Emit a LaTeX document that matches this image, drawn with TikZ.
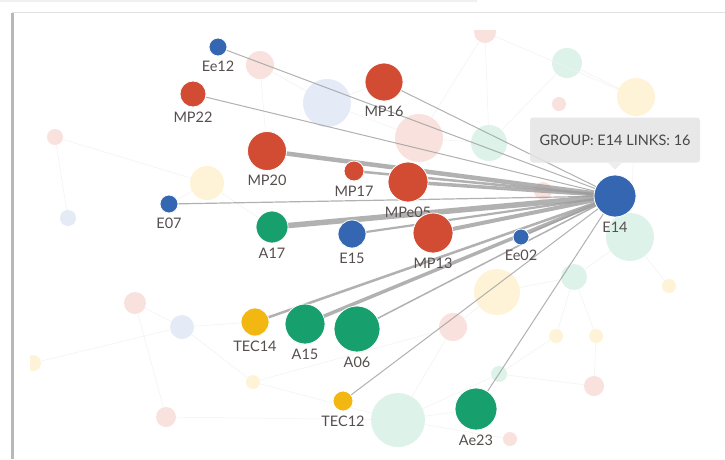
\documentclass[tikz,border=0pt]{standalone}
\usepackage{fontspec}
\setmainfont{Lato}
\usetikzlibrary{backgrounds}
\definecolor{cred}{HTML}{D24B33}
\definecolor{cblue}{HTML}{3566B2}
\definecolor{cgreen}{HTML}{17A06E}
\definecolor{cyel}{HTML}{F3B712}
\definecolor{lpink}{HTML}{F9E1DD}
\definecolor{lblue}{HTML}{E4EBF6}
\definecolor{lgreen}{HTML}{DDF3EA}
\definecolor{lyel}{HTML}{FEF3D6}
\definecolor{txt}{HTML}{574E4E}
\definecolor{edgec}{HTML}{9E9E9E}
\tikzset{
 fg/.style={circle, inner sep=0pt, draw=white, line width=0.8pt},
 lab/.style={font=\fontsize{14.5}{15}\selectfont, text=txt, inner sep=1pt},
 bgn/.style={circle, inner sep=0pt, draw=none},
 link/.style={draw=edgec, draw opacity=0.8},
 faint/.style={draw=black!5, line width=0.5pt},
 tip/.style={fill=black!10, fill opacity=0.85, text opacity=1, rounded corners=3pt,
   minimum width=170pt, minimum height=45pt, text=black!72,
   font=\fontsize{14.5}{15}\selectfont},
}
\newcommand{\fgn}[6]{\node[fg, fill=#1, minimum size=#5, label={[lab,label distance=3pt]below:#6}] (#2) at (#3,#4) {};}
\newcommand{\bgc}[5]{\node[bgn, fill=#1, minimum size=#5] (#2) at (#3,#4) {};}
\begin{document}
\begin{tikzpicture}[x=1pt,y=-1pt]
\useasboundingbox (0,0) rectangle (725,459);
% foreground nodes
\fgn{cblue}{E14}{615}{196}{42pt}{E14}
\fgn{cblue}{Ee12}{218}{47}{18pt}{Ee12}
\fgn{cred}{MP22}{193}{94}{26pt}{MP22}
\fgn{cred}{MP16}{384}{82}{38pt}{MP16}
\fgn{cred}{MP20}{267}{151}{39pt}{MP20}
\fgn{cred}{MP17}{354}{171}{20pt}{MP17}
\fgn{cred}{MPe05}{408}{182}{40pt}{MPe05}
\fgn{cblue}{E07}{169}{204}{18pt}{E07}
\fgn{cgreen}{A17}{272}{227}{32pt}{A17}
\fgn{cblue}{E15}{352}{234}{28pt}{E15}
\fgn{cred}{MP13}{433}{233}{40pt}{MP13}
\fgn{cblue}{Ee02}{521}{237}{16pt}{Ee02}
\fgn{cyel}{TEC14}{255}{322}{28pt}{TEC14}
\fgn{cgreen}{A15}{305}{324}{40pt}{A15}
\fgn{cgreen}{A06}{357}{329}{46pt}{A06}
\fgn{cyel}{TEC12}{343}{401}{20pt}{TEC12}
\fgn{cgreen}{Ae23}{476}{409}{42pt}{Ae23}
% tooltip
\node[tip] (tip) at (615,140) {GROUP: E14 LINKS: 16};
\fill[black!8, fill opacity=0.85] ([xshift=-7pt]tip.south) -- ([xshift=7pt]tip.south) -- ([yshift=-7pt]tip.south) -- cycle;
\begin{scope}[on background layer]
\fill[white] (0,0) rectangle (725,459);
\draw[black!6, line width=1.5pt] (0,1) -- (477,1);
\draw[black!12, line width=1pt] (12,459) -- (12,12) -- (725,12);
\draw[black!28, line width=2.2pt] (12.5,13) -- (12.5,459);
\begin{scope}
\clip (30,30) rectangle (725,459);
\bgc{lpink}{p1}{260}{65}{28pt}
\bgc{lblue}{bl1}{327}{103}{48pt}
\bgc{lpink}{p2}{485}{32}{22pt}
\bgc{lgreen}{g1}{567}{63}{30pt}
\bgc{lyel}{y1}{636}{97}{38pt}
\bgc{lpink}{p3}{559}{104}{14pt}
\bgc{lpink}{p4}{419}{138}{48pt}
\bgc{lgreen}{g2}{489}{143}{36pt}
\bgc{lpink}{p5}{55}{137}{16pt}
\bgc{lyel}{y2}{207}{183}{34pt}
\bgc{lblue}{bl2}{68}{218}{16pt}
\bgc{lpink}{p6}{543}{191}{18pt}
\bgc{lgreen}{g3}{630}{237}{48pt}
\bgc{lgreen}{g4}{574}{277}{26pt}
\bgc{lyel}{y3}{669}{286}{14pt}
\bgc{lyel}{y4}{497}{292}{46pt}
\bgc{lpink}{p7}{453}{327}{28pt}
\bgc{lyel}{y5}{556}{336}{14pt}
\bgc{lyel}{y6}{596}{336}{14pt}
\bgc{lpink}{p8}{135}{303}{22pt}
\bgc{lblue}{bl3}{182}{327}{24pt}
\bgc{lyel}{y7}{33}{363}{16pt}
\bgc{lyel}{y8}{253}{382}{14pt}
\bgc{lpink}{p9}{166}{417}{20pt}
\bgc{lgreen}{g5}{398}{420}{54pt}
\bgc{lgreen}{g6}{499}{374}{16pt}
\bgc{lpink}{p10}{594}{386}{20pt}
\bgc{lpink}{p11}{510}{439}{14pt}
% faint background links
\foreach \a/\b in {p1/bl1, bl1/p4, p4/g2, g2/p2, p2/y1, g1/y1, p2/p4, y1/g3, p5/y2, y2/A17, p5/bl2,
  bl3/TEC14, y7/bl3, p8/bl3, p8/p9, bl3/y8, y8/g5, g5/Ae23, g6/p10, p10/y6, y6/g4, y5/g4,
  g4/g3, y3/g3, p7/g5, y4/p7, y4/g4, p9/g5, g5/g6, p11/g5, MP20/p1, y2/E07, bl1/MP16, g2/g1, p7/y8, g6/y5}
  \draw[faint] (\a) -- (\b);
\end{scope}
% links of E14
\foreach \n/\w in {Ee12/1, MP22/1, MP16/1, MP20/4.5, MP17/2.5, MPe05/3.5, E07/1.2, A17/5.5,
  E15/2.2, MP13/4, Ee02/1.5, TEC14/2.5, A15/3.5, A06/1.5, TEC12/1, Ae23/1}
  \draw[link, line width=\w pt] (E14.center) -- (\n.center);
\end{scope}
\end{tikzpicture}
\end{document}
